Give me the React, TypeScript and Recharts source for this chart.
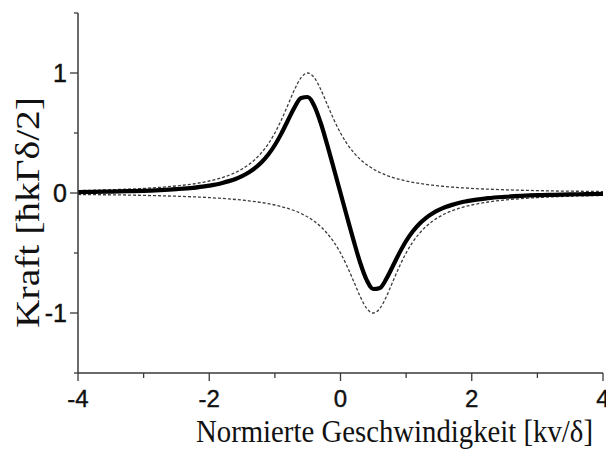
import { LineChart, Line, XAxis, YAxis } from "recharts";

const AXIS = "#3a3a3a";
const INK = "#111111";
const DASH = "#3c3c3c";

// normierte Geschwindigkeit kv/δ
const speed = [
  -4, -3.75, -3.5, -3.25, -3, -2.75, -2.5, -2.25, -2, -1.9, -1.8, -1.7, -1.6, -1.5,
  -1.4, -1.3, -1.2, -1.1, -1, -0.9, -0.8, -0.7, -0.6, -0.5, -0.4, -0.3, -0.2, -0.1, 0,
  0.1, 0.2, 0.3, 0.4, 0.5, 0.6, 0.7, 0.8, 0.9, 1, 1.1, 1.2, 1.3, 1.4, 1.5, 1.6, 1.7,
  1.8, 1.9, 2, 2.25, 2.5, 2.75, 3, 3.25, 3.5, 3.75, 4,
];

// dashed, upper resonance (laser from one side)
const upper = [
  0.02, 0.023, 0.027, 0.032, 0.038, 0.047, 0.059, 0.075, 0.1, 0.113, 0.129, 0.148, 0.171, 0.2,
  0.236, 0.281, 0.338, 0.41, 0.5, 0.61, 0.735, 0.862, 0.962, 1, 0.962, 0.862, 0.735, 0.61, 0.5,
  0.41, 0.338, 0.281, 0.236, 0.2, 0.171, 0.148, 0.129, 0.113, 0.1, 0.089, 0.08, 0.072, 0.065,
  0.059, 0.054, 0.049, 0.045, 0.042, 0.038, 0.032, 0.027, 0.023, 0.02, 0.017, 0.015, 0.014, 0.012,
];

// dashed, lower resonance (laser from the other side)
const lower = [
  -0.012, -0.014, -0.015, -0.017, -0.02, -0.023, -0.027, -0.032, -0.038, -0.042, -0.045, -0.049,
  -0.054, -0.059, -0.065, -0.072, -0.08, -0.089, -0.1, -0.113, -0.129, -0.148, -0.171, -0.2,
  -0.236, -0.281, -0.338, -0.41, -0.5, -0.61, -0.735, -0.862, -0.962, -1, -0.962, -0.862, -0.735,
  -0.61, -0.5, -0.41, -0.338, -0.281, -0.236, -0.2, -0.171, -0.148, -0.129, -0.113, -0.1, -0.075,
  -0.059, -0.047, -0.038, -0.032, -0.027, -0.023, -0.02,
];

// bold, total force
const total = [
  0.008, 0.009, 0.012, 0.015, 0.018, 0.024, 0.032, 0.043, 0.062, 0.071, 0.084, 0.099, 0.117,
  0.141, 0.171, 0.209, 0.258, 0.321, 0.4, 0.497, 0.606, 0.714, 0.791, 0.8, 0.726, 0.581, 0.397,
  0.2, 0, -0.2, -0.397, -0.581, -0.726, -0.8, -0.791, -0.714, -0.606, -0.497, -0.4, -0.321,
  -0.258, -0.209, -0.171, -0.141, -0.117, -0.099, -0.084, -0.071, -0.062, -0.043, -0.032,
  -0.024, -0.018, -0.015, -0.012, -0.009, -0.008,
];

const xTicks = [-4, -3, -2, -1, 0, 1, 2, 3, 4];
const xLabels = [-4, -2, 0, 2, 4];
const yTicks = [-1.5, -1, -0.5, 0, 0.5, 1, 1.5];
const yLabels = [-1, 0, 1];

const data = speed.map((v, i) => ({
  v,
  upper: upper[i],
  lower: lower[i],
  total: total[i],
}));

const SANS = "'Liberation Sans', Arial, sans-serif";
const SERIF = "'Liberation Serif', 'Times New Roman', serif";

function XTick(props: any) {
  const { x, y, payload } = props;
  const major = xLabels.includes(payload.value);
  return (
    <g>
      <line x1={x} x2={x} y1={y} y2={y + (major ? 8 : 5)} stroke={AXIS} strokeWidth={1.3} />
      {major && (
        <text x={x} y={y + 34} textAnchor="middle" fontSize={24} fill={INK}
          stroke={INK} strokeWidth={0.4} fontFamily={SANS}>
          {payload.value}
        </text>
      )}
    </g>
  );
}

function YTick(props: any) {
  const { x, y, payload } = props;
  const major = yLabels.includes(payload.value);
  return (
    <g>
      <line x1={x - (major ? 8 : 4)} x2={x} y1={y} y2={y} stroke={AXIS} strokeWidth={1.3} />
      {major && (
        <text x={x - 11} y={y + 9} textAnchor="end" fontSize={25} fill={INK}
          stroke={INK} strokeWidth={0.4} fontFamily={SANS}>
          {payload.value}
        </text>
      )}
    </g>
  );
}

export default function App() {
  return (
    <div style={{ position: "absolute", left: 0, top: 0, width: 606, height: 451, background: "#fff" }}>
      <LineChart width={606} height={451} data={data}
        margin={{ top: 13, right: 3, left: 0, bottom: 0 }}>
        <XAxis dataKey="v" type="number" domain={[-4, 4]} ticks={xTicks} interval={0}
          height={78} tickSize={0} tickMargin={0} tick={XTick}
          axisLine={{ stroke: AXIS, strokeWidth: 1.5 }} />
        <YAxis type="number" domain={[-1.5, 1.5]} ticks={yTicks} interval={0}
          width={78} tickSize={0} tickMargin={0} tick={YTick}
          axisLine={{ stroke: AXIS, strokeWidth: 1.5 }} />
        <Line dataKey="upper" type="monotone" stroke={DASH} strokeWidth={1.3}
          strokeDasharray="3 2" dot={false} isAnimationActive={false} />
        <Line dataKey="lower" type="monotone" stroke={DASH} strokeWidth={1.3}
          strokeDasharray="3 2" dot={false} isAnimationActive={false} />
        <Line dataKey="total" type="monotone" stroke="#000" strokeWidth={4.2}
          dot={false} isAnimationActive={false} />
      </LineChart>
      <svg width={606} height={451}
        style={{ position: "absolute", left: 0, top: 0, pointerEvents: "none" }}>
        <text transform="translate(196 442) scale(1 1.08)" fontSize={28.6} fill={INK}
          textLength={397} lengthAdjust="spacingAndGlyphs" fontFamily={SERIF}>
          Normierte Geschwindigkeit [kv/δ]
        </text>
        <text transform="translate(39 328) rotate(-90)" fontSize={34} fill={INK} textLength={231}
          lengthAdjust="spacingAndGlyphs" fontFamily={SERIF}>
          Kraft [ħkΓδ/2]
        </text>
      </svg>
    </div>
  );
}
